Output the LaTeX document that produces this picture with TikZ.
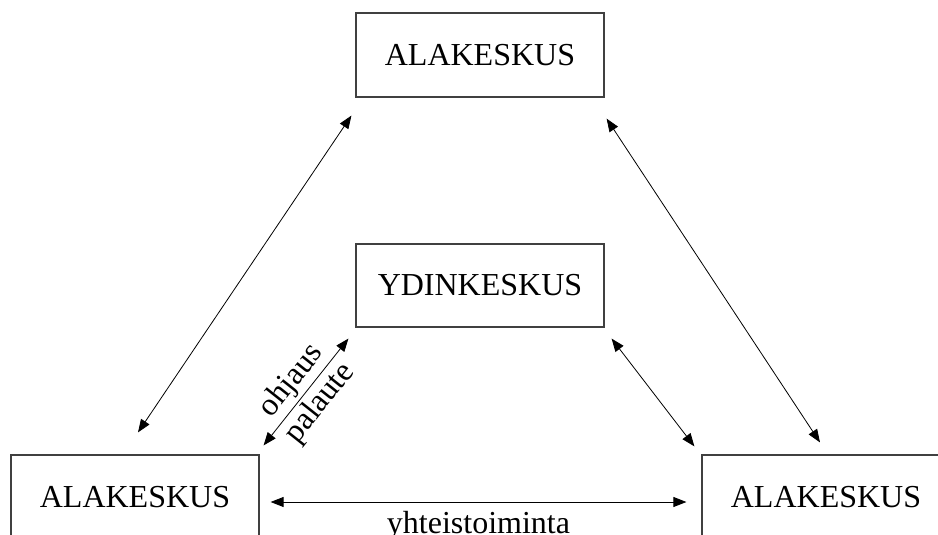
\documentclass[tikz,border=0pt]{standalone}
\usepackage{fontspec}
\setmainfont{Liberation Serif}
\usetikzlibrary{arrows.meta,calc}
\begin{document}
\begin{tikzpicture}[x=1pt,y=-1pt,
  box/.style={draw=black!75,line width=1.2pt,minimum width=248pt,inner sep=0pt,font=\fontsize{32}{38}\selectfont},
  conn/.style={line width=0.8pt,{Triangle[length=13pt,width=10pt]}-{Triangle[length=13pt,width=10pt]}},
  lbl/.style={font=\fontsize{32}{38}\selectfont}]
\useasboundingbox (0,0) rectangle (938,535);
\clip (0,0) rectangle (938,535);
\node[box,minimum height=84pt] (ntop) at (480,55) {ALAKESKUS};
\node[box,minimum height=83pt] (ydin) at (480,285.5) {YDINKESKUS};
\node[box,minimum height=84pt] (bl) at (135,497) {ALAKESKUS};
\node[box,minimum height=84pt] (br) at (826,497) {ALAKESKUS};
\draw[conn] ($(ntop.south west)+(-4,18)$) -- ($(bl.north)+(3,-22)$);
\draw[conn] ($(bl.north east)+(4,-9)$) -- ($(ydin.south west)+(-7,11)$)
  node[lbl,midway,sloped,above] {ohjaus}
  node[lbl,midway,sloped,below] {palaute};
\draw[conn] ($(ntop.south east)+(2,21)$) -- ($(br.north)+(-6,-12)$);
\draw[conn] ($(ydin.south east)+(7,11)$) -- ($(br.north west)+(-7,-8)$);
\draw[conn] ($(bl.east)+(11,5)$) -- ($(br.west)+(-15,5)$)
  node[lbl,midway,below=6pt] {yhteistoiminta};
\end{tikzpicture}
\end{document}
